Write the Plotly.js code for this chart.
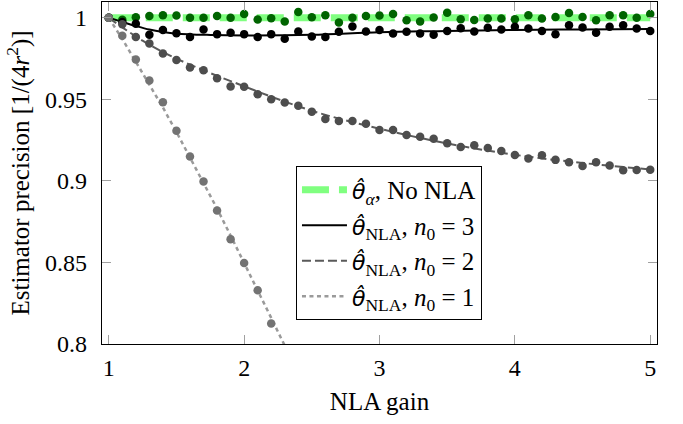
<!DOCTYPE html>
<html><head><meta charset="utf-8">
<script src="https://cdn.plot.ly/plotly-3.0.1.min.js"></script>
<style>html,body{margin:0;padding:0;background:#fff}#chart{width:683px;height:424px}</style>
</head><body><div id="chart"></div>
<script>
// NLA gain values where the simulated estimator precision was sampled
const gain = [1.0,1.1,1.2,1.3,1.4,1.5,1.6,1.7,1.8,1.9,2.0,2.1,2.2,2.3,2.4,2.5,2.6,2.7,2.8,2.9,3.0,
              3.1,3.2,3.3,3.4,3.5,3.6,3.7,3.8,3.9,4.0,4.1,4.2,4.3,4.4,4.5,4.6,4.7,4.8,4.9,5.0];
// simulated points
const noNlaPts = [1.0,0.9988,1.0003,1.0011,1.0016,1.0014,1.0001,1.0001,1.0011,1.0001,1.0023,
                  0.9990,0.9998,0.9977,1.0035,1.0003,1.0016,0.9972,1.0001,1.0011,1.0014,
                  1.0024,0.9985,0.9977,1.0002,1.0031,0.9991,0.9986,0.9996,0.9996,0.9991,
                  1.0016,0.9996,1.0005,1.0029,1.0005,0.9985,1.0016,1.0016,1.0001,1.0024];
const n3Pts = [1.0,0.9975,0.9963,0.9896,0.9925,0.9905,0.9883,0.9929,0.9900,0.9909,0.9900,
               0.9883,0.9900,0.9872,0.9916,0.9885,0.9883,0.9914,0.9947,0.9916,0.9926,
               0.9904,0.9914,0.9904,0.9896,0.9919,0.9936,0.9916,0.9939,0.9929,0.9945,
               0.9934,0.9919,0.9899,0.9955,0.9941,0.9909,0.9945,0.9955,0.9934,0.9919];
const n2Pts = [1.0,0.9961,0.9883,0.9843,0.9781,0.9741,0.9696,0.9679,0.9630,0.9579,0.9577,
               0.9532,0.9500,0.9481,0.9461,0.9424,0.9379,0.9367,0.9367,0.9351,0.9312,
               0.9312,0.9282,0.9271,0.9259,0.9231,0.9208,0.9218,0.9202,0.9184,0.9159,
               0.9137,0.9157,0.9129,0.9114,0.9092,0.9114,0.9094,0.9065,0.9067,0.9069];
const n1Gain = [1.0,1.1,1.2,1.3,1.4,1.5,1.6,1.7,1.8,1.9,2.0,2.1,2.2];
const n1Pts = [1.0,0.989,0.9745,0.9616,0.9482,0.9308,0.9149,0.8996,0.8818,0.8643,0.8496,0.8329,0.8125];
// theory curves
const noNlaCurveX = [1,5];
const noNlaCurveY = [1,1];
const n3CurveX = [1,1.1,1.2,1.3,1.4,1.5,1.75,2,2.5,3,3.5,4,4.5,5];
const n3CurveY = [1.0,0.9975,0.995,0.9928,0.9913,0.9903,0.9895,0.9892,0.9896,0.9912,0.9919,0.9926,0.9929,0.9932];
const n2CurveX = [1,1.25,1.5,2,2.5,3,3.5,4,4.5,5];
const n2CurveY = [1.0,0.986,0.975,0.958,0.943,0.932,0.923,0.916,0.911,0.907];
const n1CurveX = [1.0,1.1,1.2,1.3,1.4,1.5,1.6,1.7,1.8,1.9,2.0,2.1,2.2,2.3,2.4];
const n1CurveY = [1.0,0.987,0.973,0.959,0.945,0.930,0.9145,0.899,0.883,0.8665,0.850,0.833,0.816,0.799,0.782];

const theta = '<span style="font-family:DejaVu Sans;font-size:22px"><i>θ̂</i></span>';
const labels = [
  theta + '<sub><i>α</i></sub>, No NLA',
  theta + '<sub>NLA</sub>, <i>n</i><sub>0</sub> = 3',
  theta + '<sub>NLA</sub>, <i>n</i><sub>0</sub> = 2',
  theta + '<sub>NLA</sub>, <i>n</i><sub>0</sub> = 1'
];

const traces = [
  {x: noNlaCurveX, y: noNlaCurveY, mode: 'lines', name: labels[0],
   line: {color: '#80ff80', width: 7, dash: '27px,10px'}},
  {x: n3CurveX, y: n3CurveY, mode: 'lines', name: labels[1],
   line: {color: '#000000', width: 2, shape: 'spline'}},
  {x: n2CurveX, y: n2CurveY, mode: 'lines', name: labels[2],
   line: {color: '#5a5a5a', width: 2, dash: '9px,4px', shape: 'spline'}},
  {x: n1CurveX, y: n1CurveY, mode: 'lines', name: labels[3],
   line: {color: '#9a9a9a', width: 2.5, dash: '4px,3.5px'}},
  {x: gain, y: noNlaPts, mode: 'markers', showlegend: false,
   marker: {color: '#006400', size: 8.5}},
  {x: gain, y: n3Pts, mode: 'markers', showlegend: false,
   marker: {color: '#000000', size: 8.5}},
  {x: gain, y: n2Pts, mode: 'markers', showlegend: false,
   marker: {color: '#4d4d4d', size: 8.5}},
  {x: n1Gain, y: n1Pts, mode: 'markers', showlegend: false,
   marker: {color: '#737373', size: 8.5}}
];

const font = 'Liberation Serif, Times New Roman, serif';
const layout = {
  width: 683, height: 424,
  margin: {l: 102, r: 26, t: 2, b: 80},
  paper_bgcolor: '#ffffff', plot_bgcolor: '#ffffff',
  font: {family: font, size: 25, color: '#000'},
  showlegend: true,
  legend: {x: 0.3495, y: 0.5205, xanchor: 'left', yanchor: 'top', itemwidth: 45,
           bgcolor: '#ffffff', bordercolor: '#000', borderwidth: 1,
           font: {family: font, size: 25, color: '#000'}},
  xaxis: {range: [0.95, 5.05], tickvals: [1,2,3,4,5], ticktext: ['1','2','3','4','5'],
          showgrid: false, zeroline: false, showline: true, linecolor: '#000', linewidth: 1.2,
          mirror: 'ticks', ticks: 'inside', ticklen: 9, tickcolor: '#a0a0a0', tickwidth: 1,
          ticklabelstandoff: 2,
          tickfont: {size: 24}, title: {text: 'NLA gain', font: {size: 25}, standoff: 12}},
  yaxis: {range: [0.8, 1.0097], tickvals: [0.8,0.85,0.9,0.95,1], ticktext: ['0.8','0.85','0.9','0.95','1'],
          showgrid: false, zeroline: false, showline: true, linecolor: '#000', linewidth: 1.2,
          mirror: 'ticks', ticks: 'inside', ticklen: 9, tickcolor: '#a0a0a0', tickwidth: 1,
          ticklabelstandoff: 9,
          tickfont: {size: 24}, title: {text: 'Estimator precision [1/(4<i>r</i><sup>2</sup>)]', font: {size: 25}, standoff: 8}}
};
Plotly.newPlot('chart', traces, layout, {staticPlot: true, displayModeBar: false});
</script>
</body></html>
